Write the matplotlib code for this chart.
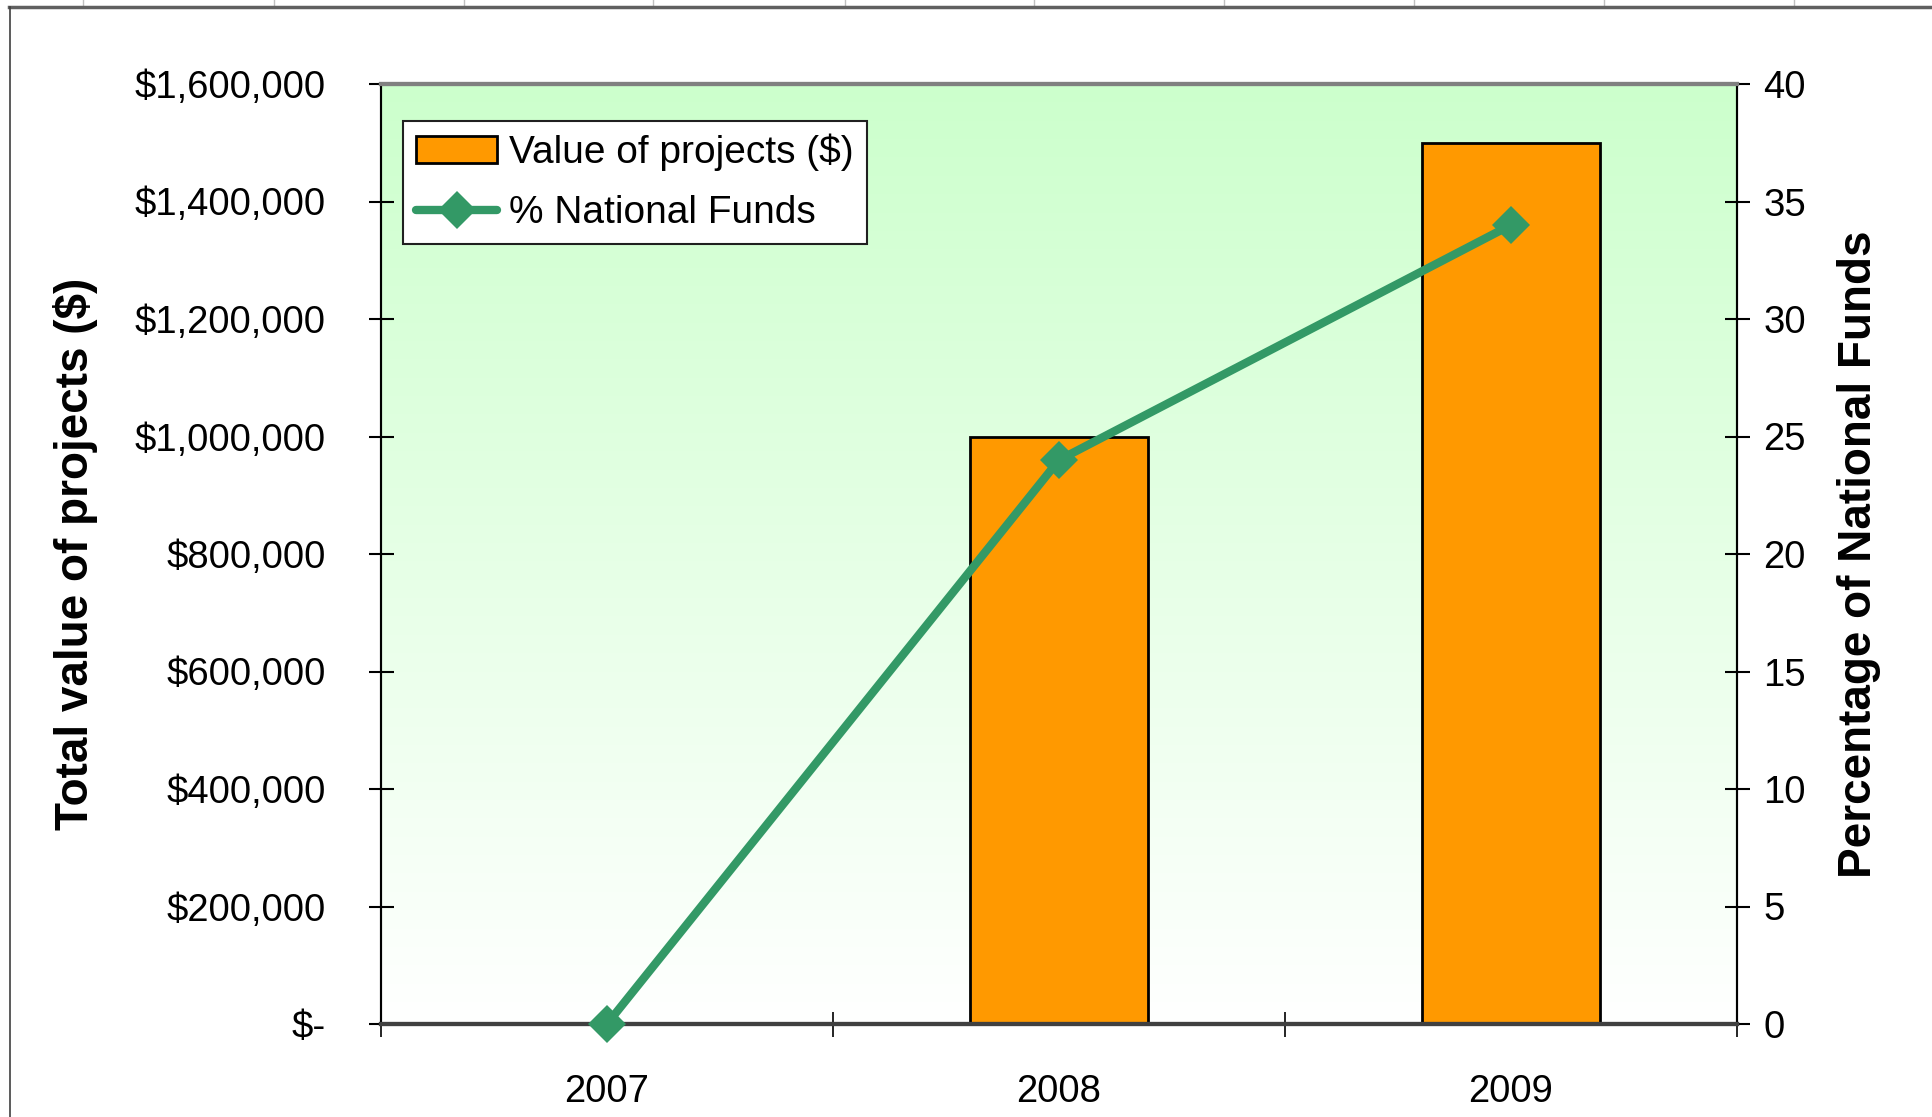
import matplotlib
matplotlib.use("Agg")
import matplotlib.pyplot as plt
import numpy as np
from matplotlib.lines import Line2D
from matplotlib.colors import LinearSegmentedColormap

plt.rcParams['font.family'] = ['Liberation Sans', 'DejaVu Sans']

# ---- data ----
years = ["2007", "2008", "2009"]
project_values = [0, 1000000, 1500000]
pct_national = [0, 24, 34]
left_ticks = [0, 200000, 400000, 600000, 800000, 1000000, 1200000, 1400000, 1600000]
left_tick_labels = ["$-", "$200,000", "$400,000", "$600,000", "$800,000",
                    "$1,000,000", "$1,200,000", "$1,400,000", "$1,600,000"]
right_ticks = [0, 5, 10, 15, 20, 25, 30, 35, 40]
right_tick_labels = ["0", "5", "10", "15", "20", "25", "30", "35", "40"]

W, H = 1933, 1117
fig = plt.figure(figsize=(W / 100, H / 100), dpi=100)
fig.patch.set_facecolor("white")

L, R, T, B = 381, 1737, 84, 1024
ax = fig.add_axes([L / W, 1 - B / H, (R - L) / W, (B - T) / H])
ax2 = ax.twinx()

x = np.arange(len(years))
ax.set_xlim(-0.5, 2.5)
ax.set_ylim(0, 1600000)
ax2.set_ylim(0, 40)

# gradient background
cmap = LinearSegmentedColormap.from_list("g", ["#FFFFFF", "#CCFFCC"])
grad = np.linspace(0, 1, 256).reshape(-1, 1)
ax.imshow(grad, extent=[-0.5, 2.5, 0, 1600000], origin="lower", aspect="auto",
          cmap=cmap, zorder=0)
ax.patch.set_visible(False)

bars = ax.bar(x, project_values, width=0.395, color="#FF9900", edgecolor="black",
              linewidth=2, zorder=2, label="Value of projects ($)")

line, = ax2.plot(x, pct_national, color="#339966", lw=6, marker="D", ms=19,
                 mew=0, solid_capstyle="round", zorder=3, clip_on=False,
                 label="% National Funds")

# ticks
fs = 27.5
ax.set_yticks(left_ticks)
ax.set_yticklabels(left_tick_labels)
ax2.set_yticks(right_ticks)
ax2.set_yticklabels(right_tick_labels)
ax.set_xticks([-0.5, 0.5, 1.5, 2.5])
ax.set_xticklabels([])
ax.set_xticks(x, minor=True)
ax.set_xticklabels(years, minor=True)
ax.tick_params(axis="x", which="major", direction="inout", length=18, width=1.2, color="black")
ax.tick_params(axis="x", which="minor", length=0, labelsize=fs, pad=36)
ax.tick_params(axis="y", direction="inout", length=18, width=1.5, labelsize=fs, pad=31)
ax2.tick_params(axis="y", direction="inout", length=18, width=1.5, labelsize=fs, pad=10)

ax.set_ylabel("Total value of projects ($)", fontsize=33, fontweight="bold", labelpad=26)
ax2.set_ylabel("Percentage of National Funds", fontsize=33, fontweight="bold", labelpad=22)

for a in (ax, ax2):
    a.spines["top"].set_color("#808080")
    a.spines["top"].set_linewidth(3)
    a.spines["bottom"].set_color("#404040")
    a.spines["bottom"].set_linewidth(3)
    a.spines["left"].set_color("black")
    a.spines["left"].set_linewidth(1.5)
    a.spines["right"].set_color("black")
    a.spines["right"].set_linewidth(1.5)

leg = ax2.legend([bars, line], ["Value of projects ($)", "% National Funds"],
                 loc="upper left", bbox_to_anchor=(0.0162, 0.9606), borderaxespad=0,
                 fontsize=28, frameon=True, fancybox=False, handlelength=2.1,
                 handletextpad=0.3, labelspacing=0.62, borderpad=0.33)
leg.get_frame().set_edgecolor("#202020")
leg.get_frame().set_linewidth(1.5)
leg.get_frame().set_facecolor("white")
leg.get_frame().set_alpha(1)
leg.set_zorder(10)

# outer frame and spreadsheet gridlines
def fx(px):
    return px / W

def fy(py):
    return 1 - py / H

for gx in [83, 274, 464, 653, 845, 1034, 1224, 1414, 1604, 1794]:
    fig.add_artist(Line2D([fx(gx), fx(gx)], [fy(0), fy(6)], color="#C0C0C0", lw=1))
fig.add_artist(Line2D([fx(9), fx(W)], [fy(7), fy(7)], color="#606060", lw=2.5))
fig.add_artist(Line2D([fx(10), fx(10)], [fy(7), fy(H)], color="#404040", lw=1.2))

fig.savefig("out.png", dpi=100)
